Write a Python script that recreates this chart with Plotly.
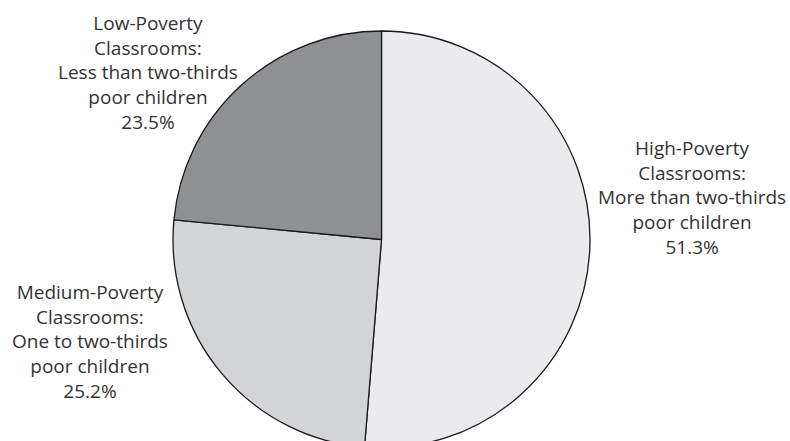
import plotly.graph_objects as go

categories = ["High-Poverty", "Medium-Poverty", "Low-Poverty"]
values = [51.3, 25.2, 23.5]
label_texts = [
    "High-Poverty<br>Classrooms:<br>More than two-thirds<br>poor children<br>51.3%",
    "Medium-Poverty<br>Classrooms:<br>One to two-thirds<br>poor children<br>25.2%",
    "Low-Poverty<br>Classrooms:<br>Less than two-thirds<br>poor children<br>23.5%",
]
colors = ["#ebebed", "#d3d4d6", "#8f9092"]

W, H = 790, 480
cx, cy, r = 381.5, 239.5, 208.5
label_pos = [(691.5, 197), (90, 341), (147.5, 72)]

fig = go.Figure(go.Pie(
    labels=categories,
    values=values,
    sort=False,
    direction="clockwise",
    rotation=0,
    textinfo="none",
    hoverinfo="label+percent",
    marker=dict(colors=colors, line=dict(color="#1a1a1a", width=1.3)),
    domain=dict(x=[(cx - r) / W, (cx + r) / W], y=[(H - cy - r) / H, (H - cy + r) / H]),
    showlegend=False,
))

for txt, (px, py) in zip(label_texts, label_pos):
    fig.add_annotation(
        x=px / W, y=(H - py) / H, xref="paper", yref="paper",
        text=txt, showarrow=False, xanchor="center", yanchor="middle",
        align="center",
        font=dict(family="Open Sans", size=19, color="#333333"),
    )

fig.update_layout(
    width=W, height=H,
    margin=dict(l=0, r=0, t=0, b=0),
    paper_bgcolor="white", plot_bgcolor="white",
)

fig.write_html("out.html", post_script="document.body.style.overflow='hidden';document.documentElement.style.overflow='hidden';")
